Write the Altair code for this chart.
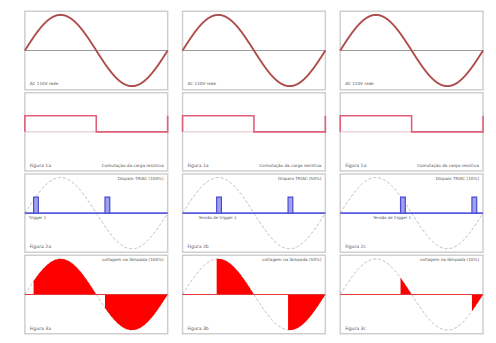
import altair as alt
import pandas as pd

# ---- data ----
columns = ["a", "b", "c"]
firing_deg = [22, 86, 152]          # TRIAC firing angle per column (degrees)
pulse_width_deg = 12                # width of trigger pulse
pulse_height = [0.45]               # height of trigger pulse (relative to sine amplitude)
square_x = [0, 0, 180, 180, 360, 360]
square_y = [0, 0.45, 0.45, 0, 0, 0.45]
percent = ["100%", "50%", "10%"]
trigger_labels = ["Trigger 1", "Tensão de trigger 1", "Tensão de trigger 1"]
trigger_label_x = [4, 16, 33]

W, H = 144, 79
XS = alt.Scale(domain=[0, 360], nice=False, zero=False)
YS = alt.Scale(domain=[-1.1, 1.1], nice=False, zero=False)
FONT = "DejaVu Sans"
TXT = "#555555"


def sine(color, width=1.5, dash=None):
    kw = dict(color=color, strokeWidth=width)
    if dash:
        kw["strokeDash"] = dash
    return (
        alt.Chart(alt.sequence(0, 360.5, 0.5, as_="deg"))
        .transform_calculate(v="sin(datum.deg*PI/180)")
        .mark_line(**kw)
        .encode(x=alt.X("deg:Q", scale=XS, axis=None),
                y=alt.Y("v:Q", scale=YS, axis=None))
    )


def axis_line(color, width=1.0):
    return alt.Chart(pd.DataFrame({"v": [0]})).mark_rule(color=color, strokeWidth=width).encode(
        y=alt.Y("v:Q", scale=YS, axis=None)
    )


def label(text, x, y, align="left", size=4.6):
    return alt.Chart(pd.DataFrame({"t": [text]})).mark_text(
        align=align, baseline="middle", font=FONT, fontSize=size, color=TXT
    ).encode(text="t:N", x=alt.value(x), y=alt.value(y))


def row1(i):
    return alt.layer(
        axis_line("#999999", 1.0),
        sine("#c06464", 2.0),
        sine("#8a2f2f", 0.7),
        label("AC 110V rede", 5, 73, size=4.2),
    ).properties(width=W, height=H)


def row2(i):
    df = pd.DataFrame({"x": square_x, "y": square_y, "i": list(range(len(square_x)))})
    sq = alt.Chart(df).mark_line(color="#e0607a", strokeWidth=1.6).encode(
        x=alt.X("x:Q", scale=XS, axis=None),
        y=alt.Y("y:Q", scale=YS, axis=None),
        order="i:Q",
    )
    return alt.layer(
        axis_line("#d8b0b8", 0.8),
        sq,
        label("Figura 1a", 5, 74),
        label("Comutação da carga resistiva", 140, 74, align="right", size=4.2),
    ).properties(width=W, height=H)


def row3(i):
    f = firing_deg[i]
    pulses = pd.DataFrame({
        "x": [f, f + 180],
        "x2": [f + pulse_width_deg, f + 180 + pulse_width_deg],
        "y": [0, 0],
        "y2": pulse_height * 2,
    })
    pr = alt.Chart(pulses).mark_rect(fill="#a0a0f0", stroke="#4a4ad0", strokeWidth=1.2).encode(
        x=alt.X("x:Q", scale=XS, axis=None), x2="x2:Q",
        y=alt.Y("y:Q", scale=YS, axis=None), y2="y2:Q",
    )
    return alt.layer(
        sine("#b0b0b0", 1.0, [3, 2]),
        axis_line("#5a5ae0", 1.8),
        pr,
        label(trigger_labels[i], trigger_label_x[i], 44, size=4.0),
        label(f"Disparo TRIAC ({percent[i]})", 140, 5, align="right", size=4.2),
        label(f"Figura 2{columns[i]}", 5, 74),
    ).properties(width=W, height=H)


def row4(i):
    f = firing_deg[i]
    area = (
        alt.Chart(alt.sequence(0, 360.5, 0.5, as_="deg"))
        .transform_calculate(v="sin(datum.deg*PI/180)",
                             half="datum.deg <= 180 ? 0 : 1")
        .transform_filter(f"(datum.deg <= 180 && datum.deg >= {f}) || datum.deg >= {180 + f}")
        .mark_area(color="#ff0000", opacity=1)
        .encode(x=alt.X("deg:Q", scale=XS, axis=None),
                y=alt.Y("v:Q", scale=YS, axis=None),
                y2=alt.datum(0),
                detail="half:N")
    )
    return alt.layer(
        sine("#b0b0b0", 1.0, [3, 2]),
        area,
        axis_line("#e03a3a", 1.2),
        label(f"voltagem na lâmpada ({percent[i]})", 140, 5, align="right", size=4.2),
        label(f"Figura 3{columns[i]}", 5, 74),
    ).properties(width=W, height=H)


panels = [fn(i) for fn in (row1, row2, row3, row4) for i in range(3)]

chart = (
    alt.concat(*panels, columns=3, spacing={"row": 3, "column": 15}, bounds="flush")
    .properties(padding={"left": 12, "top": 0, "right": 0, "bottom": 0}, background="white")
    .configure_view(stroke="#cfcfcf", strokeWidth=1.5)
)

chart.save("out.html", embed_options={"renderer": "svg", "actions": False})
